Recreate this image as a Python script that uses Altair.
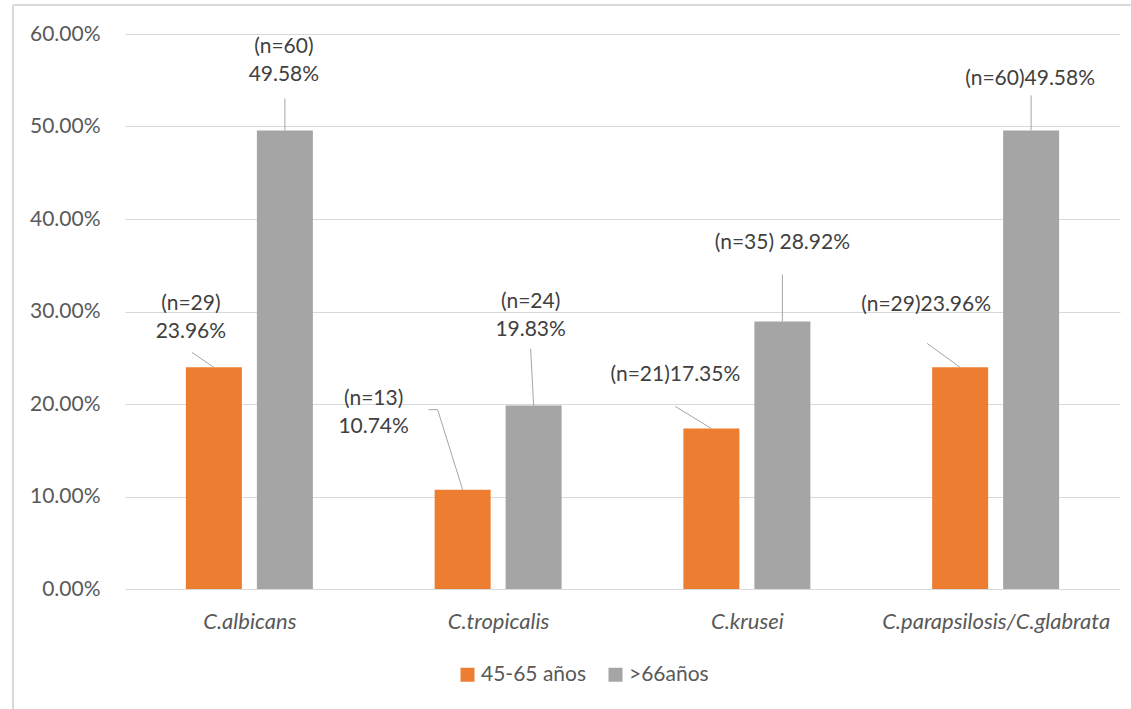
import altair as alt
import pandas as pd

# --- chart data -------------------------------------------------------------
CATEGORIES = ["C.albicans", "C.tropicalis", "C.krusei", "C.parapsilosis/C.glabrata"]
SERIES = ["45-65 años", ">66años"]
PCT_45_65 = [23.96, 10.74, 17.35, 23.96]
PCT_OVER_66 = [49.58, 19.83, 28.92, 49.58]
N_45_65 = [29, 13, 21, 29]
N_OVER_66 = [60, 24, 35, 60]
Y_TICKS = [0, 10, 20, 30, 40, 50, 60]

# --- styling / layout -------------------------------------------------------
COLORS = ["#ED7D31", "#A5A5A5"]
FONT = "Lato"
FONT_SIZE = 21
LINE_H = 28
PLOT_W, PLOT_H = 995, 555
Y_MAX = 60
N_CAT = len(CATEGORIES)
BAND_PX = PLOT_W / N_CAT
BAR_W = 56 / BAND_PX        # bar width, in category-band units
BAR_SHIFT = 35.5 / BAND_PX  # distance of each bar centre from the band centre

# Text between the count and the percentage of each data label
JOIN_45_65 = ["\n", "\n", "", ""]
JOIN_OVER_66 = ["\n", "\n", " ", ""]
# Data-label block centre, in pixels relative to the top centre of its bar
LABEL_OFFSET_45_65 = [(-23, -49), (-89, -77), (-36, -54), (-34, -62)]
LABEL_OFFSET_OVER_66 = [(-1, -69), (-3, -90), (0, -78), (-1, -51)]
# Leader-line vertices (pixels from the bar top); each line ends on the bar top
LEADER_45_65 = [[(-22, -15)], [(-34, -80), (-25, -80)], [(-36, -22)], [(-33, -24)]]
LEADER_OVER_66 = [[(0, -32)], [(-3, -57)], [(0, -47)], [(0, -35)]]


def px_x(dx):
    return dx * N_CAT / PLOT_W


def px_y(dy):
    return -dy * Y_MAX / PLOT_H


bars, labels, leaders = [], [], []
series_values = [
    (SERIES[0], PCT_45_65, N_45_65, JOIN_45_65, LABEL_OFFSET_45_65, LEADER_45_65, -1),
    (SERIES[1], PCT_OVER_66, N_OVER_66, JOIN_OVER_66, LABEL_OFFSET_OVER_66, LEADER_OVER_66, 1),
]
for s_name, pcts, counts, joins, offs, leads, side in series_values:
    for i, cat in enumerate(CATEGORIES):
        centre = i + 0.5 + side * BAR_SHIFT
        pct = pcts[i]
        bar_id = f"{cat}|{s_name}"
        bars.append({
            "category": cat, "series": s_name, "pct": pct,
            "x0": centre - BAR_W / 2, "x1": centre + BAR_W / 2,
        })
        text = f"(n={counts[i]}){joins[i]}{pct:.2f}%"
        n_lines = text.count("\n") + 1
        dx, dy = offs[i]
        # the text mark anchors its first line, so lift multi-line blocks
        first_line_dy = dy - (n_lines - 1) * LINE_H / 2
        labels.append({
            "x": centre + px_x(dx), "y": pct + px_y(first_line_dy),
            "text": text,
        })
        pts = leads[i] + [(0, 0)]
        for k, (lx, ly) in enumerate(pts):
            leaders.append({
                "id": bar_id, "k": k,
                "x": centre + px_x(lx), "y": pct + px_y(ly),
            })

bars_df = pd.DataFrame(bars)
labels_df = pd.DataFrame(labels)
leaders_df = pd.DataFrame(leaders)

x_scale = alt.Scale(domain=[0, N_CAT], nice=False, zero=False)
y_scale = alt.Scale(domain=[0, Y_MAX], nice=False)
label_expr = "[" + ",".join(f"'{c}'" for c in CATEGORIES) + "][floor(datum.value)]"

x_axis = alt.Axis(
    values=[i + 0.5 for i in range(N_CAT)], labelExpr=label_expr,
    grid=False, ticks=False, tickSize=0, domain=False, labelFont=FONT,
    labelFontSize=22, labelFontStyle="italic", labelLimit=500,
    labelColor="#595959", labelPadding=22, labelFlush=False, title=None,
)
y_axis = alt.Axis(
    values=Y_TICKS, labelExpr="format(datum.value, '.2f') + '%'",
    grid=True, gridColor="#D9D9D9", gridWidth=1, ticks=False,
    tickSize=0, domain=False, labelFont=FONT, labelFontSize=FONT_SIZE,
    labelColor="#595959", labelPadding=25, title=None,
)


def xq(field):
    return alt.X(field, scale=x_scale, axis=x_axis, title=None)


def yq(field):
    return alt.Y(field, scale=y_scale, axis=y_axis, title=None)


bar_layer = alt.Chart(bars_df).mark_bar().encode(
    x=xq("x0:Q"),
    x2="x1:Q",
    y=yq("pct:Q"),
    y2=alt.datum(0),
    color=alt.Color(
        "series:N",
        scale=alt.Scale(domain=SERIES, range=COLORS),
        legend=alt.Legend(
            title=None, orient="none", legendX=332, legendY=630,
            direction="horizontal", symbolType="square", symbolSize=196,
            symbolStrokeWidth=0, labelFont=FONT, labelFontSize=FONT_SIZE,
            labelColor="#595959", labelOffset=3, columnPadding=18, padding=0,
        ),
    ),
)

leader_layer = alt.Chart(leaders_df).mark_line(
    color="#A6A6A6", strokeWidth=1
).encode(
    x=xq("x:Q"),
    y=yq("y:Q"),
    detail="id:N",
    order="k:Q",
)

label_layer = alt.Chart(labels_df).mark_text(
    font=FONT, fontSize=FONT_SIZE, color="#404040", lineBreak="\n",
    lineHeight=LINE_H, align="center", baseline="middle",
).encode(
    x=xq("x:Q"),
    y=yq("y:Q"),
    text="text:N",
)

# light frame along the top and left edge of the chart area
frame_top = alt.Chart(bars_df).mark_rule(color="#D9D9D9", strokeWidth=1).encode(
    x=alt.value(-112), x2=alt.value(1010), y=alt.value(-29)
)
frame_left = alt.Chart(bars_df).mark_rule(color="#D9D9D9", strokeWidth=1).encode(
    x=alt.value(-112), y=alt.value(-29), y2=alt.value(680)
)

chart = alt.layer(
    frame_top, frame_left, bar_layer, leader_layer, label_layer
).properties(
    width=PLOT_W, height=PLOT_H,
    autosize=alt.AutoSizeParams(type="none"),
    padding={"left": 125, "top": 34, "right": 11, "bottom": 120},
    background="white",
).configure_view(stroke=None)

chart.save("out.html", embed_options={"renderer": "svg", "actions": False})
